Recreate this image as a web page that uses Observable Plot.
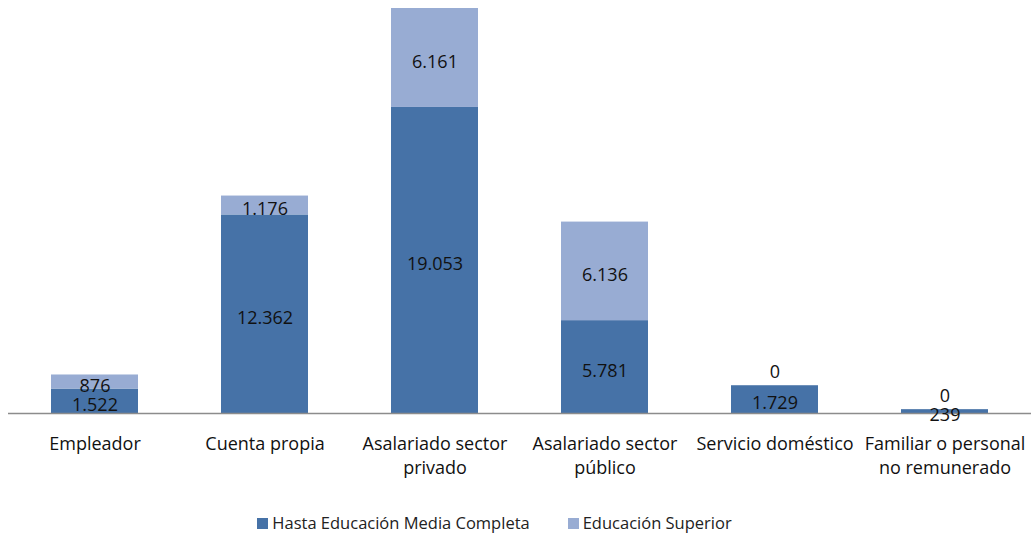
<!DOCTYPE html>
<html><head><meta charset="utf-8">
<script src="https://cdn.jsdelivr.net/npm/d3@7"></script>
<script src="https://cdn.jsdelivr.net/npm/@observablehq/plot@0.6"></script>
<style>
body{margin:0;background:#fff;font-family:"Open Sans",sans-serif;}
#legend{display:flex;justify-content:center;gap:38px;font-size:16.5px;color:#222;height:44px;align-items:center;margin-top:0;padding-right:44px;}
.sw{display:inline-block;width:11px;height:11px;margin-right:4px;vertical-align:0px;}
</style></head><body>
<div id="chart"></div>
<div id="legend"></div>
<script>
const categories = ["Empleador","Cuenta propia","Asalariado sector privado","Asalariado sector público","Servicio doméstico","Familiar o personal no remunerado"];
const tickLabels = ["Empleador","Cuenta propia","Asalariado sector\nprivado","Asalariado sector\npúblico","Servicio doméstico","Familiar o personal\nno remunerado"];
const series = ["Hasta Educación Media Completa","Educación Superior"];
const hastaMedia = [1522,12362,19053,5781,1729,239];
const superior = [876,1176,6161,6136,0,0];
const colors = ["#4672A7","#98ACD3"];

const data = [];
categories.forEach((c,i)=>{
  data.push({cat:c, serie:series[0], value:hastaMedia[i]});
  data.push({cat:c, serie:series[1], value:superior[i]});
});
const fmt = d3.formatLocale({decimal:",",thousands:".",grouping:[3],currency:["$",""]}).format(",d");
const labelOf = new Map(categories.map((c,i)=>[c,tickLabels[i]]));

const chart = Plot.plot({
  width:1033, height:500,
  marginLeft:8, marginRight:2, marginTop:8, marginBottom:87,
  style:{fontFamily:"Open Sans, sans-serif", fontSize:"18px", color:"#111", background:"#fff"},
  x:{domain:categories, paddingInner:0.49, paddingOuter:0.245, label:null, axis:null},
  y:{axis:null, domain:[0,25214]},
  color:{domain:series, range:colors},
  marks:[
    Plot.barY(data, Plot.stackY({x:"cat", y:"value", fill:"serie", order:series})),
    Plot.ruleY([0], {stroke:"#8c8c8c", strokeWidth:1.5}),
    Plot.axisX({tickSize:0, tickPadding:20, fontSize:18, lineHeight:1.3, fill:"#111", tickFormat:d=>labelOf.get(d), label:null}),
    Plot.text(data, Plot.stackY({x:"cat", y:"value", z:"serie", order:series, text:d=>d.value>0?fmt(d.value):null, fill:"#111", fontSize:18, dy:4})),
    Plot.text(data, Plot.stackY({x:"cat", y:"value", z:"serie", order:series, text:d=>d.value===0?fmt(d.value):null, fill:"#111", fontSize:18, dy:-13}))
  ]
});
document.getElementById("chart").appendChild(chart);
const lg = document.getElementById("legend");
series.forEach((s,i)=>{
  const span = document.createElement("span");
  span.innerHTML = `<span class="sw" style="background:${colors[i]}"></span>${s}`;
  lg.appendChild(span);
});
</script>
</body></html>
